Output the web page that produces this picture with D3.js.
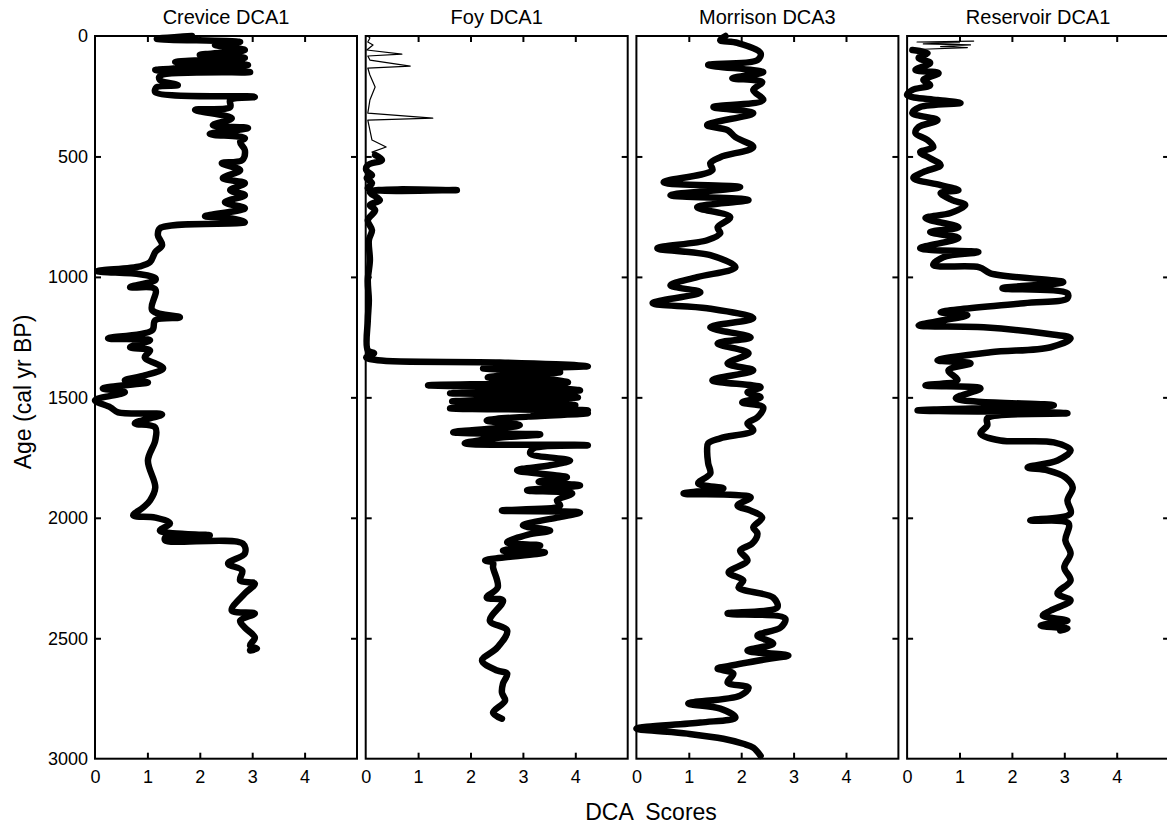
<!DOCTYPE html>
<html>
<head>
<meta charset="utf-8">
<script src="https://cdn.jsdelivr.net/npm/d3@7"></script>
<style>
  body { margin: 0; background: #fff; }
  text { font-family: Arial, "Liberation Sans", sans-serif; fill: #000; }
</style>
</head>
<body>
<div id="chart"></div>
<script>
// [age, score] pairs
const creviceData = [
  [0,1.85],[12,1.18],[25,2.77],[37,2.29],[58,2.86],[79,2.0],[91,2.86],[108,1.53],[120,2.92],
  [141,1.15],[150,2.96],[166,1.24],[183,1.24],[204,1.58],[212,1.18],[233,1.15],[253,3.05],
  [266,2.58],[295,2.58],[307,1.91],[341,2.61],[370,2.25],[382,2.92],[407,2.19],[424,2.86],
  [440,2.77],[474,2.86],[515,2.81],[528,2.42],[557,2.77],[590,2.44],[611,2.86],[640,2.58],
  [661,2.86],[690,2.48],[715,2.86],[748,2.10],[756,2.58],[773,2.86],[798,1.24],[827,1.2],
  [868,1.28],[897,1.15],[939,1.05],[956,0.86],[976,0.05],[989,0.86],[1005,1.15],[1014,1.15],
  [1043,0.67],[1051,1.15],[1138,1.09],[1168,1.62],[1180,1.15],[1222,1.09],[1255,0.25],
  [1263,1.05],[1292,0.67],[1305,1.05],[1334,0.95],[1379,1.30],[1409,0.95],[1429,0.57],
  [1438,1.01],[1463,0.15],[1479,0.57],[1512,0.0],[1541,0.29],[1562,0.44],[1571,1.28],
  [1608,0.76],[1625,1.15],[1679,1.15],[1762,1.01],[1874,1.15],[1928,1.05],[1957,0.92],
  [1990,0.73],[1999,1.15],[2023,1.43],[2053,1.24],[2073,2.19],[2082,1.34],[2094,1.34],
  [2107,2.82],[2148,2.86],[2190,2.54],[2219,2.81],[2260,2.77],[2273,3.05],[2314,2.86],
  [2385,2.61],[2397,3.05],[2427,2.77],[2456,2.86],[2497,3.05],[2530,2.96],[2543,3.09],[2551,2.96]
];

const foyThin = [
  [0,0.04],[8,0.08],[25,0.04],[37,0.14],[58,0.02],[75,0.69],[83,0.04],[100,0.08],[125,0.85],
  [133,0.04],[162,0.08],[212,0.18],[266,0.08],[320,0.04],[341,1.28],[349,0.04],[391,0.08],
  [432,0.12],[461,0.39],[482,0.12],[494,0.18]
];

const foyThick = [
  [494,0.18],[515,0.31],[536,0.04],[557,0.01],[578,0.12],[590,0.02],[611,0.12],[632,0.04],
  [640,1.74],[648,0.08],[681,0.27],[702,0.08],[723,0.18],[765,0.04],[806,0.12],[848,0.06],
  [931,0.08],[1014,0.04],[1097,0.06],[1180,0.04],[1305,0.04],[1317,0.16],[1334,0.01],
  [1346,0.23],[1355,2.56],[1371,4.24],[1380,2.24],[1396,3.71],[1405,2.9],[1417,2.33],
  [1425,3.5],[1438,3.86],[1444,2.6],[1450,1.19],[1458,3.2],[1471,4.09],[1477,2.8],[1483,1.61],
  [1490,3.4],[1500,4.05],[1508,2.7],[1517,1.65],[1525,3.3],[1533,4.0],[1540,2.5],[1546,1.61],
  [1554,4.24],[1560,3.2],[1566,4.24],[1580,3.1],[1596,2.31],[1616,2.94],[1645,1.67],[1654,3.33],
  [1666,2.62],[1691,1.89],[1699,4.24],[1712,3.2],[1733,3.14],[1762,3.9],[1782,3.52],[1803,2.89],
  [1832,3.84],[1850,3.3],[1866,4.09],[1886,3.08],[1899,3.94],[1928,3.65],[1949,3.71],
  [1970,2.6],[1978,4.09],[1999,3.65],[2032,3.0],[2053,3.52],[2070,3.1],[2102,2.7],[2115,3.33],
  [2136,2.62],[2144,3.42],[2177,2.28],[2186,2.43],[2206,2.43],[2289,2.52],[2331,2.31],
  [2343,2.62],[2427,2.37],[2468,2.70],[2539,2.51],[2593,2.22],[2634,2.51],[2647,2.70],
  [2688,2.62],[2726,2.6],[2759,2.66],[2809,2.43],[2834,2.6]
];

const morrisonData = [
  [0,1.70],[17,1.60],[29,1.93],[71,2.37],[100,2.31],[120,1.37],[150,2.42],[175,1.83],[191,2.40],
  [224,2.23],[266,2.42],[295,1.47],[320,2.23],[370,1.35],[391,1.74],[420,1.89],[461,2.23],
  [503,1.60],[528,1.41],[557,1.45],[607,0.52],[627,1.98],[661,0.65],[681,2.14],[711,1.16],
  [752,1.79],[794,1.55],[819,1.60],[848,1.35],[881,0.40],[910,1.41],[960,1.89],[1001,1.16],
  [1035,0.65],[1064,1.22],[1109,0.31],[1130,1.35],[1172,2.23],[1209,1.41],[1251,2.18],
  [1276,1.55],[1317,2.14],[1359,1.74],[1388,2.23],[1429,1.45],[1458,2.37],[1479,2.12],
  [1500,2.37],[1521,2.02],[1541,2.42],[1583,2.31],[1608,2.12],[1637,2.23],[1670,1.60],
  [1691,1.37],[1720,1.35],[1774,1.37],[1816,1.41],[1857,1.18],[1878,1.66],[1899,0.90],
  [1915,2.18],[1949,1.93],[1970,2.18],[1999,2.40],[2040,2.23],[2065,2.31],[2107,2.21],
  [2136,1.98],[2177,2.12],[2227,1.76],[2260,2.04],[2289,1.95],[2331,2.61],[2372,2.69],
  [2397,1.74],[2418,2.84],[2456,2.75],[2489,2.31],[2522,2.61],[2551,2.12],[2572,2.90],
  [2584,2.56],[2614,1.79],[2626,1.55],[2647,1.85],[2684,1.74],[2705,2.14],[2738,1.98],
  [2771,0.99],[2792,1.60],[2829,1.89],[2850,1.22],[2875,0.0],[2896,0.97],[2917,1.66],
  [2938,2.04],[2954,2.23],[2988,2.37]
];

const reservoirThin = [
  [21,1.27],[25,0.19],[28,1.0],[33,0.31],[37,1.21],[44,0.64],[48,1.15],[55,0.3],[58,0.10]
];

const reservoirThick = [
  [58,0.10],[71,0.39],[91,0.22],[112,0.44],[141,0.16],[154,0.60],[183,0.31],[204,0.44],
  [224,0.10],[245,0.0],[266,0.58],[278,1.02],[295,0.25],[320,0.10],[349,0.58],[378,0.22],
  [403,0.16],[432,0.39],[461,0.50],[482,0.25],[507,0.44],[536,0.64],[565,0.31],[590,0.12],
  [619,0.64],[640,0.98],[652,0.64],[681,0.86],[702,1.11],[735,0.83],[756,0.35],[794,0.98],
  [814,0.44],[839,0.98],[881,0.25],[897,1.36],[918,0.69],[951,0.50],[960,1.38],[985,1.59],
  [1022,2.98],[1047,1.82],[1068,3.06],[1089,3.06],[1109,2.23],[1147,0.64],[1159,1.15],
  [1180,0.69],[1201,0.22],[1209,1.46],[1234,2.60],[1255,3.12],[1292,2.74],[1313,1.59],
  [1346,0.58],[1359,1.21],[1388,0.79],[1429,0.96],[1450,0.35],[1463,1.40],[1504,0.93],
  [1533,2.80],[1554,0.20],[1566,3.06],[1587,1.53],[1616,1.53],[1650,1.40],[1679,1.78],
  [1687,2.80],[1720,3.12],[1762,2.87],[1791,2.30],[1803,2.68],[1832,3.02],[1874,3.16],
  [1928,3.06],[1982,3.12],[2011,2.35],[2023,3.08],[2094,3.02],[2148,3.12],[2206,3.0],
  [2260,3.12],[2314,2.87],[2343,3.12],[2385,2.74],[2406,2.59],[2427,3.06],[2447,2.55],
  [2460,3.06],[2468,2.92]
];

const panelTitles = ["Crevice DCA1", "Foy DCA1", "Morrison DCA3", "Reservoir DCA1"];
const xTicks = [0, 1, 2, 3, 4];
const yTicks = [0, 500, 1000, 1500, 2000, 2500, 3000];

const panels = [
  { title: panelTitles[0], series: [{ data: creviceData, w: 6.5 }] },
  { title: panelTitles[1], series: [{ data: foyThin, w: 1.2, thin: true }, { data: foyThick, w: 6.5 }] },
  { title: panelTitles[2], series: [{ data: morrisonData, w: 6.5 }] },
  { title: panelTitles[3], series: [{ data: reservoirThin, w: 1.2, thin: true }, { data: reservoirThick, w: 6.5 }] }
];

const width = 1167, height = 828,
  margin = { top: 36, left: 95 },
  panelW = 262, gap = 8.7,
  innerH = 722.7;

const svg = d3.select('#chart').append('svg')
  .attr('width', width)
  .attr('height', height);

const x = d3.scaleLinear().domain([0, 5]).range([0, panelW]);
const y = d3.scaleLinear().domain([0, 3000]).range([0, innerH]);

const line = d3.line()
  .x(d => x(d[1]))
  .y(d => y(d[0]))
  .curve(d3.curveCatmullRom.alpha(0.5));

const thinLine = d3.line()
  .x(d => x(d[1]))
  .y(d => y(d[0]));

panels.forEach((p, i) => {
  const g = svg.append('g')
    .attr('transform', `translate(${margin.left + i * (panelW + gap)},${margin.top})`);

  p.series.forEach(s => {
    g.append('path')
      .attr('d', (s.thin ? thinLine : line)(s.data))
      .attr('fill', 'none')
      .attr('stroke', '#000')
      .attr('stroke-width', s.w)
      .attr('stroke-linejoin', 'round')
      .attr('stroke-linecap', 'round');
  });

  // inward ticks on all four sides
  const left = g.append('g')
    .call(d3.axisLeft(y).tickValues(i === 0 ? yTicks : yTicks.slice(1, -1))
      .tickSize(-6).tickPadding(7).tickFormat(i === 0 ? d3.format('d') : ''));
  const right = g.append('g')
    .attr('transform', `translate(${panelW},0)`)
    .call(d3.axisRight(y).tickValues(yTicks.slice(1, -1)).tickSize(-6).tickFormat(''));
  const bottom = g.append('g')
    .attr('transform', `translate(0,${innerH})`)
    .call(d3.axisBottom(x).tickValues(xTicks).tickSize(-6).tickPadding(12).tickFormat(d3.format('d')));
  const top = g.append('g')
    .call(d3.axisTop(x).tickValues(xTicks.slice(1)).tickSize(-6).tickFormat(''));

  [left, right, bottom, top].forEach(a => {
    a.select('.domain').remove();
    a.selectAll('.tick line').attr('stroke', '#000').attr('stroke-width', 2);
    a.selectAll('text').style('font-size', '18px').attr('fill', '#000')
      .style('font-family', 'Arial, "Liberation Sans", sans-serif');
  });
  bottom.selectAll('.tick').filter(d => d === 0).select('line').remove();
  left.selectAll('.tick').filter(d => d === 0 || d === 3000).select('line').remove();

  g.append('rect')
    .attr('width', panelW)
    .attr('height', innerH)
    .attr('fill', 'none')
    .attr('stroke', '#000')
    .attr('stroke-width', 2);

  g.append('text')
    .attr('x', panelW / 2)
    .attr('y', -12)
    .attr('text-anchor', 'middle')
    .style('font-size', '20px')
    .text(p.title);
});

svg.append('text')
  .attr('x', 651)
  .attr('y', 820)
  .attr('text-anchor', 'middle')
  .style('font-size', '23px')
  .style('white-space', 'pre')
  .text('DCA  Scores');

svg.append('text')
  .attr('transform', 'translate(31,392) rotate(-90)')
  .attr('text-anchor', 'middle')
  .style('font-size', '23px')
  .text('Age (cal yr BP)');
</script>
</body>
</html>
